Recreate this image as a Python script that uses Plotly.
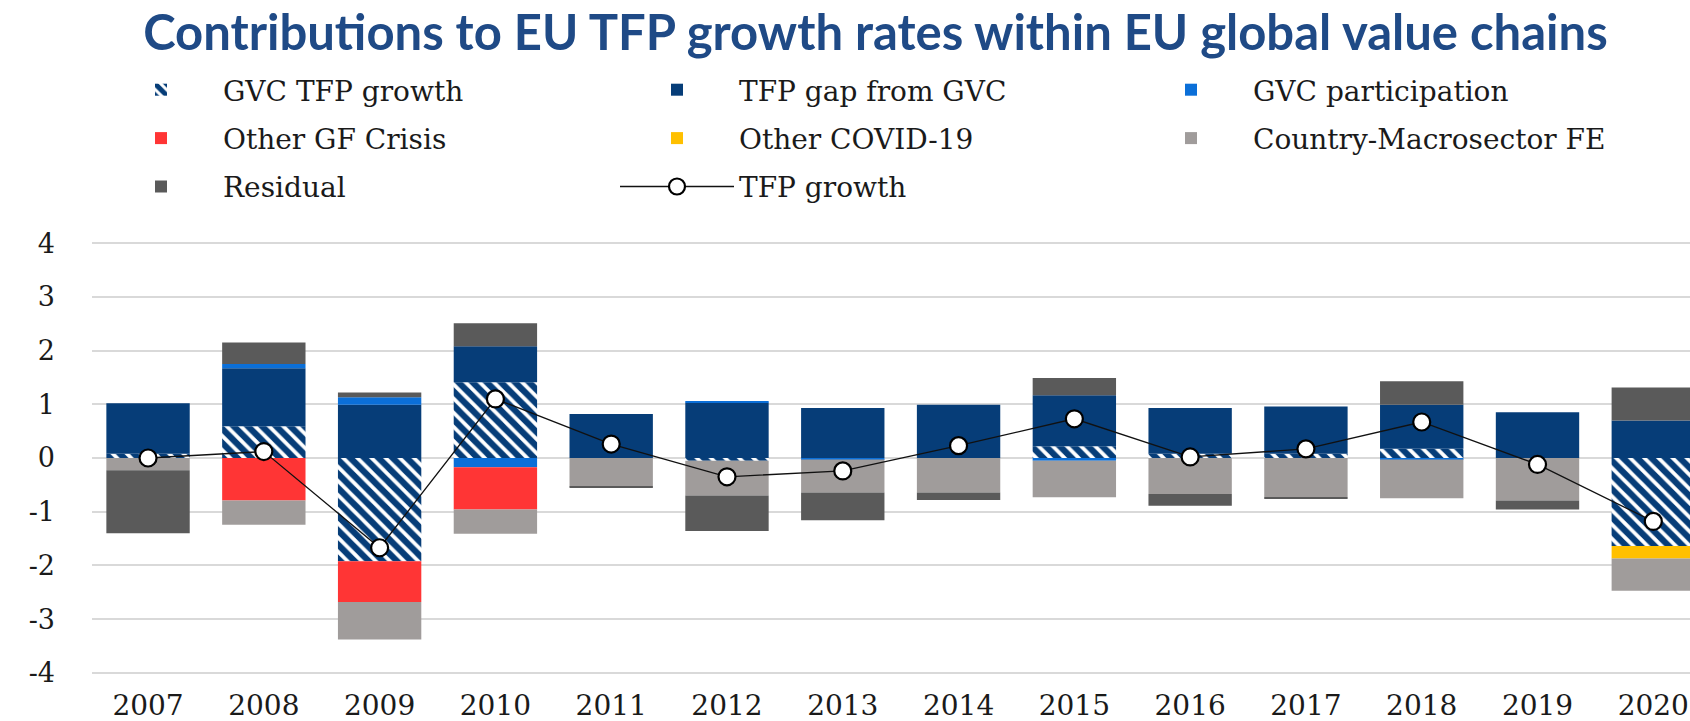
import plotly.graph_objects as go

years = ["2007", "2008", "2009", "2010", "2011", "2012", "2013", "2014",
         "2015", "2016", "2017", "2018", "2019", "2020"]

gvc_tfp_growth = [0.08, 0.59, -1.92, 1.41, 0.0, -0.05, 0.0, 0.0, 0.22, 0.08, 0.08, 0.17, 0.0, -1.64]
tfp_gap = [0.94, 1.08, 0.99, 0.67, 0.82, 1.03, 0.93, 0.99, 0.95, 0.85, 0.88, 0.82, 0.85, 0.70]
gvc_participation = [0.0, 0.08, 0.14, -0.17, 0.0, 0.02, -0.03, 0.0, -0.05, 0.0, 0.0, -0.03, 0.0, 0.0]
other_gf_crisis = [0.0, -0.79, -0.76, -0.79, 0.0, 0.0, 0.0, 0.0, 0.0, 0.0, 0.0, 0.0, 0.0, 0.0]
other_covid = [0.0, 0.0, 0.0, 0.0, 0.0, 0.0, 0.0, 0.0, 0.0, 0.0, 0.0, 0.0, 0.0, -0.23]
country_fe = [-0.23, -0.45, -0.70, -0.45, -0.53, -0.65, -0.61, -0.64, -0.68, -0.67, -0.73, -0.72, -0.79, -0.60]
residual_pos = [0.0, 0.40, 0.09, 0.43, 0.0, 0.0, 0.0, 0.0, 0.32, 0.0, 0.0, 0.44, 0.0, 0.61]
residual_neg = [-1.17, 0.0, 0.0, 0.0, -0.02, -0.66, -0.52, -0.14, 0.0, -0.22, -0.02, 0.0, -0.17, 0.0]
tfp_growth = [0.0, 0.12, -1.67, 1.10, 0.26, -0.35, -0.24, 0.23, 0.73, 0.02, 0.17, 0.67, -0.12, -1.18]

residual = [p + n for p, n in zip(residual_pos, residual_neg)]

NAVY = "#063d78"
SERIF = "DejaVu Serif"

fig = go.Figure()

fig.add_trace(go.Bar(
    x=years, y=gvc_tfp_growth, name="GVC TFP growth",
    marker=dict(color="white", line=dict(width=0),
                pattern=dict(shape="\\", fgcolor=NAVY, bgcolor="white", fgopacity=1,
                             fillmode="replace", size=10, solidity=0.62)),
    legend="legend", legendgroup="g1"))
fig.add_trace(go.Bar(
    x=years, y=tfp_gap, name="TFP gap from GVC",
    marker=dict(color=NAVY, line=dict(width=0)), legend="legend2", legendgroup="g2"))
fig.add_trace(go.Bar(
    x=years, y=gvc_participation, name="GVC participation",
    marker=dict(color="#0b6fd8", line=dict(width=0)), legend="legend3", legendgroup="g3"))
fig.add_trace(go.Bar(
    x=years, y=other_gf_crisis, name="Other GF Crisis",
    marker=dict(color="#ff3535", line=dict(width=0)), legend="legend", legendgroup="g4"))
fig.add_trace(go.Bar(
    x=years, y=other_covid, name="Other COVID-19",
    marker=dict(color="#ffc000", line=dict(width=0)), legend="legend2", legendgroup="g5"))
fig.add_trace(go.Bar(
    x=years, y=country_fe, name="Country-Macrosector FE",
    marker=dict(color="#a09c9b", line=dict(width=0)), legend="legend3", legendgroup="g6"))
fig.add_trace(go.Bar(
    x=years, y=residual, name="Residual",
    marker=dict(color="#5a5a5a", line=dict(width=0)), legend="legend", legendgroup="g7"))
fig.add_trace(go.Scatter(
    x=years, y=tfp_growth, name="TFP growth", mode="lines+markers",
    line=dict(color="#111111", width=1.3),
    marker=dict(symbol="circle", size=17, color="white", line=dict(color="#000000", width=2.2)),
    legend="legend2", legendgroup="g8"))

legend_common = dict(
    orientation="v", xref="container", yref="container", xanchor="left", yanchor="top",
    font=dict(family=SERIF, size=28, color="#1a1a1a"), bgcolor="rgba(0,0,0,0)",
    traceorder="grouped", tracegroupgap=9, itemwidth=114, itemclick=False, itemdoubleclick=False)

tickvals = [4, 3, 2, 1, 0, -1, -2, -3, -4]
ticktext = ["4", "3", "2", "1", "0", "-1", "-2", "-3", "-4"]

fig.update_layout(
    width=1690, height=721,
    margin=dict(l=92, r=0, t=242, b=47, autoexpand=False),
    paper_bgcolor="white", plot_bgcolor="white",
    barmode="relative", bargap=0.28,
    title=dict(text="<b>Contributions to EU TFP growth rates within EU global value chains</b>",
               xref="container", yref="container", x=0.518, y=0.955, xanchor="center", yanchor="middle",
               font=dict(family="Lato", size=49, color="#1f4a86")),
    legend=dict(legend_common, x=99 / 1690, y=1 - 65 / 721),
    legend2=dict(legend_common, x=615 / 1690, y=1 - 65 / 721),
    legend3=dict(legend_common, x=1129 / 1690, y=1 - 65 / 721),
    xaxis=dict(range=[-0.484, 13.317], showgrid=False, zeroline=False, showline=False, ticks="",
               tickfont=dict(family=SERIF, size=28, color="#1a1a1a"), ticklabelstandoff=12),
    yaxis=dict(range=[-4.02, 4.02], tickvals=tickvals, ticktext=ticktext,
               showgrid=True, gridcolor="#d9d9d9", gridwidth=2, zeroline=False, showline=False,
               ticks="", tickfont=dict(family=SERIF, size=27, color="#1a1a1a"), ticklabelstandoff=36),
)

fig.write_html("out.html", config={"displayModeBar": False},
               post_script="document.body.style.margin='0';document.body.style.overflow='hidden';")
